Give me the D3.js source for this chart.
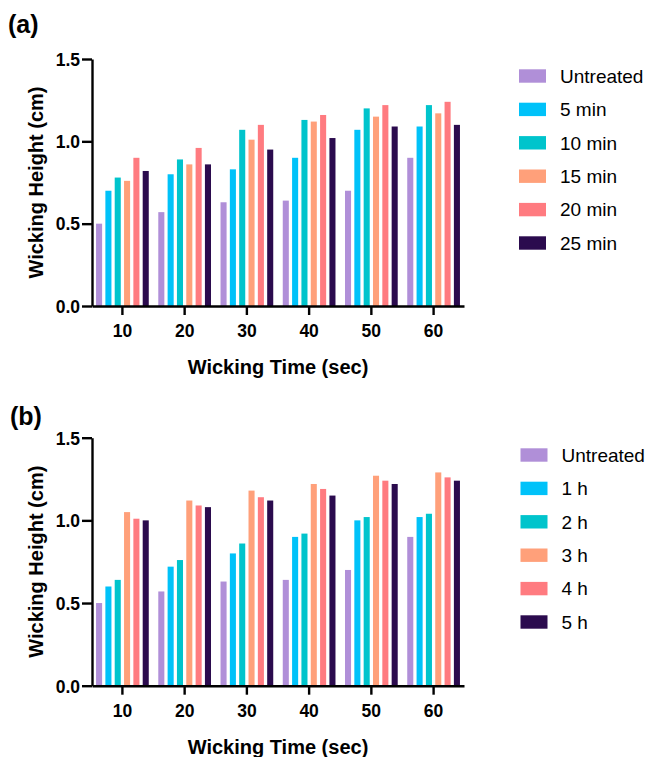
<!DOCTYPE html>
<html>
<head>
<meta charset="utf-8">
<script src="https://cdn.jsdelivr.net/npm/d3@7/dist/d3.min.js"></script>
<style>
  body { margin: 0; background: #fff; }
  svg text { font-family: "Liberation Sans", Arial, Helvetica, sans-serif; fill: #000; }
  .axis path, .axis line { stroke: #000; stroke-width: 2.4px; }
  .axis text { font-size: 17.5px; font-weight: bold; }
  .axis-title { font-size: 20px; font-weight: bold; }
  .legend-text { font-size: 19px; }
  .panel-label { font-size: 25px; font-weight: bold; }
</style>
</head>
<body>
<div id="chart"></div>
<script>
// data
var times = ["10", "20", "30", "40", "50", "60"];
var colors = ["#b08fd8", "#00c2f9", "#00c4cc", "#ffa07a", "#ff7b80", "#2b0b4e"];
var yTicks = [0, 0.5, 1.0, 1.5];

var seriesA = ["Untreated", "5 min", "10 min", "15 min", "20 min", "25 min"];
var valuesA = [
  [0.50, 0.57, 0.63, 0.64, 0.70, 0.90],   // Untreated
  [0.70, 0.80, 0.83, 0.90, 1.07, 1.09],   // 5 min
  [0.78, 0.89, 1.07, 1.13, 1.20, 1.22],   // 10 min
  [0.76, 0.86, 1.01, 1.12, 1.15, 1.17],   // 15 min
  [0.90, 0.96, 1.10, 1.16, 1.22, 1.24],   // 20 min
  [0.82, 0.86, 0.95, 1.02, 1.09, 1.10]    // 25 min
];

var seriesB = ["Untreated", "1 h", "2 h", "3 h", "4 h", "5 h"];
var valuesB = [
  [0.50, 0.57, 0.63, 0.64, 0.70, 0.90],   // Untreated
  [0.60, 0.72, 0.80, 0.90, 1.00, 1.02],   // 1 h
  [0.64, 0.76, 0.86, 0.92, 1.02, 1.04],   // 2 h
  [1.05, 1.12, 1.18, 1.22, 1.27, 1.29],   // 3 h
  [1.01, 1.09, 1.14, 1.19, 1.24, 1.26],   // 4 h
  [1.00, 1.08, 1.12, 1.15, 1.22, 1.24]    // 5 h
];

var svgWidth = 651;
var svgHeight = 757;

var svg = d3.select("#chart")
  .append("svg")
  .attr("width", svgWidth)
  .attr("height", svgHeight);

function drawPanel(opts) {
  var series = opts.series;
  var values = opts.values;
  var left = 92, right = 464;
  var top = opts.top, bottom = opts.bottom;

  var x0 = d3.scaleBand().domain(times).range([left, right])
    .paddingInner(0.153).paddingOuter(0.065);
  var x1 = d3.scaleBand().domain(series).range([0, x0.bandwidth()])
    .paddingInner(0.35).paddingOuter(0);
  var y = d3.scaleLinear().domain([0, 1.5]).range([bottom, top]);

  var g = svg.append("g");

  // bars
  var rows = [];
  times.forEach(function(t, i) {
    series.forEach(function(s, j) {
      rows.push({time: t, series: s, value: values[j][i], color: colors[j]});
    });
  });
  g.selectAll("rect.bar")
    .data(rows)
    .enter()
    .append("rect")
    .attr("class", "bar")
    .attr("x", function(d) { return x0(d.time) + x1(d.series); })
    .attr("y", function(d) { return y(d.value); })
    .attr("width", x1.bandwidth())
    .attr("height", function(d) { return bottom - y(d.value); })
    .attr("fill", function(d) { return d.color; });

  // axes
  var xAxis = g.append("g")
    .attr("class", "axis")
    .attr("transform", "translate(0," + bottom + ")")
    .call(d3.axisBottom(x0).tickSize(9).tickSizeOuter(0));
  xAxis.selectAll("text").attr("y", 31).attr("dy", 0);

  var yAxis = g.append("g")
    .attr("class", "axis")
    .attr("transform", "translate(" + left + ",0)")
    .call(d3.axisLeft(y).tickValues(yTicks).tickSize(10).tickSizeOuter(0)
      .tickFormat(d3.format(".1f")));
  yAxis.selectAll("text").attr("x", -12).attr("dy", "0.36em");

  // axis titles
  g.append("text")
    .attr("class", "axis-title")
    .attr("text-anchor", "middle")
    .attr("x", (left + right) / 2)
    .attr("y", bottom + 68)
    .text("Wicking Time (sec)");

  g.append("text")
    .attr("class", "axis-title")
    .attr("text-anchor", "middle")
    .attr("transform", "translate(43," + (top + bottom) / 2 + ") rotate(-90)")
    .text("Wicking Height (cm)");

  // panel label
  g.append("text")
    .attr("class", "panel-label")
    .attr("x", opts.labelX)
    .attr("y", opts.labelY)
    .text(opts.label);

  // legend
  var legend = g.selectAll("g.legend-item")
    .data(series)
    .enter()
    .append("g")
    .attr("class", "legend-item")
    .attr("transform", function(d, i) {
      return "translate(" + opts.legendX + "," + (opts.legendY + i * 33.4) + ")";
    });
  legend.append("rect")
    .attr("x", 0)
    .attr("y", -6.7)
    .attr("width", 27)
    .attr("height", 13.4)
    .attr("fill", function(d, i) { return colors[i]; });
  legend.append("text")
    .attr("class", "legend-text")
    .attr("x", 41)
    .attr("y", 6.8)
    .text(function(d) { return d; });
}

drawPanel({
  series: seriesA, values: valuesA, top: 59, bottom: 306,
  label: "(a)", labelX: 8, labelY: 33,
  legendX: 519, legendY: 76
});

drawPanel({
  series: seriesB, values: valuesB, top: 437.7, bottom: 685.7,
  label: "(b)", labelX: 10, labelY: 425,
  legendX: 520.5, legendY: 455
});
</script>
</body>
</html>
